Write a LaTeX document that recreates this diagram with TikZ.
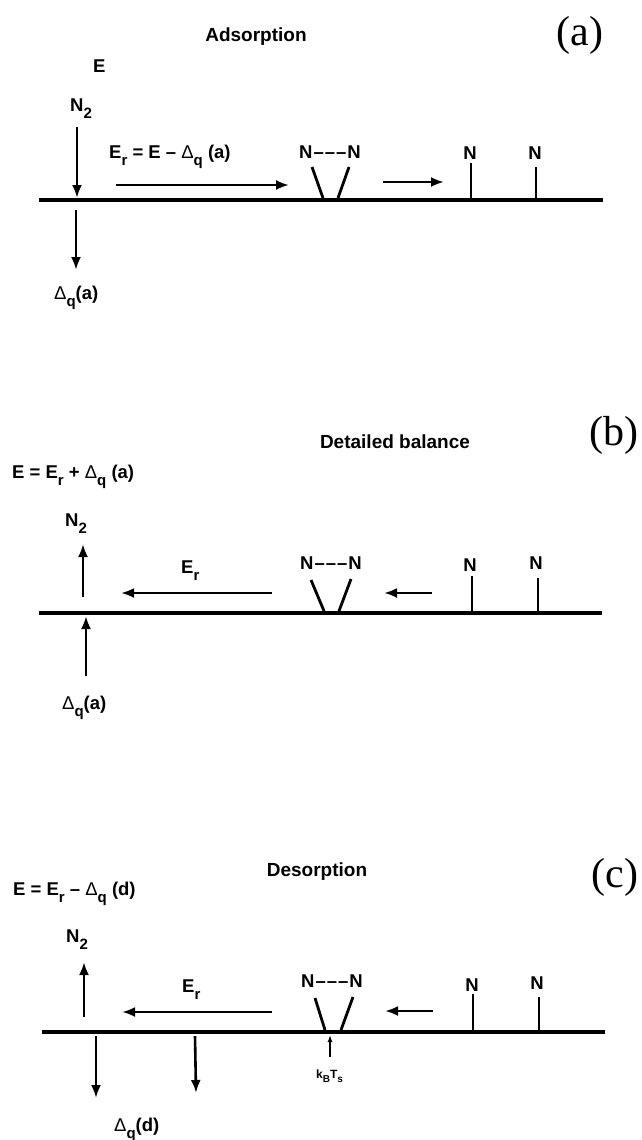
\documentclass[tikz,border=0pt]{standalone}
\usepackage{fontspec}
\setmainfont{Liberation Sans}
\newfontfamily\tagfont{Liberation Serif}
\usetikzlibrary{arrows.meta}
\newcommand{\lo}[1]{\raisebox{-7pt}{\fontsize{15}{15}\selectfont #1}}
\newcommand{\slo}[1]{\raisebox{-4pt}{\fontsize{10}{10}\selectfont #1}}
\newcommand{\Dl}{{\fontseries{m}\selectfont Δ}}
\newcommand{\NN}{N\kern1pt–\kern1pt–\kern1pt–\kern1pt N}
\tikzset{
  lbl/.style={font=\fontsize{18.5}{18.5}\selectfont\bfseries, inner sep=0pt, anchor=base west},
  ttl/.style={font=\fontsize{19}{19}\selectfont\bfseries, inner sep=0pt, anchor=base},
  tag/.style={font=\fontsize{42}{42}\selectfont\tagfont, inner sep=0pt, anchor=base},
  atom/.style={font=\fontsize{18.5}{18.5}\selectfont\bfseries, inner sep=0pt, anchor=base},
  small/.style={font=\fontsize{12}{12}\selectfont\bfseries, inner sep=0pt, anchor=base west},
  surf/.style={line width=4.8pt},
  arr/.style={line width=2.6pt, -{Latex[length=13pt,width=10pt]}},
  thinarr/.style={line width=1.3pt, -{Latex[length=7pt,width=5pt]}},
  leg/.style={line width=2.8pt}
}
\begin{document}
\begin{tikzpicture}[x=1pt,y=-1pt]
\useasboundingbox[fill=white] (0,0) rectangle (642,1140);

% ---------------- (a) Adsorption ----------------
\node[ttl] (a-title) at (256,41.5) {Adsorption};
\node[tag] (a-tag) at (580,45.5) {(a)};
\node[lbl] (a-E) at (93,73) {E};
\node[lbl] (a-N2) at (70,111) {N\lo{2}};
\node[lbl] (a-Er) at (109,158) {E\lo{r} = E – \Dl\lo{q} (a)};
\node[lbl] (a-Dq) at (54,299) {\Dl\lo{q}(a)};
\node[atom] (a-NN) at (330,158) {\NN};
\node[atom] (a-N1) at (470,159) {N};
\node[atom] (a-N2b) at (535,159) {N};
\coordinate (a-sl) at (39,200);
\coordinate (a-sr) at (603,200);
\draw[surf] (a-sl) -- (a-sr);
\coordinate (a-in1) at (77,127);
\coordinate (a-in2) at (77,198);
\draw[arr] (a-in1) -- (a-in2);
\coordinate (a-q1) at (76,210);
\coordinate (a-q2) at (76,270);
\draw[arr] (a-q1) -- (a-q2);
\coordinate (a-r1) at (116,185);
\coordinate (a-r2) at (289,185);
\draw[arr] (a-r1) -- (a-r2);
\coordinate (a-l1t) at (312,167); \coordinate (a-l1b) at (323,198);
\coordinate (a-l2t) at (349,167); \coordinate (a-l2b) at (338,198);
\draw[leg] (a-l1t) -- (a-l1b);
\draw[leg] (a-l2t) -- (a-l2b);
\coordinate (a-m1) at (383,182);
\coordinate (a-m2) at (444,182);
\draw[arr] (a-m1) -- (a-m2);
\coordinate (a-s1t) at (471,163); \coordinate (a-s1b) at (471,198);
\coordinate (a-s2t) at (536,167); \coordinate (a-s2b) at (536,198);
\draw[leg] (a-s1t) -- (a-s1b);
\draw[leg] (a-s2t) -- (a-s2b);

% ---------------- (b) Detailed balance ----------------
\node[ttl] (b-title) at (395,448) {Detailed balance};
\node[tag] (b-tag) at (614,445) {(b)};
\node[lbl] (b-E) at (12,478) {E = E\lo{r} + \Dl\lo{q} (a)};
\node[lbl] (b-N2) at (65,526) {N\lo{2}};
\node[lbl] (b-Er) at (181,573) {E\lo{r}};
\node[lbl] (b-Dq) at (62,709) {\Dl\lo{q}(a)};
\node[atom] (b-NN) at (331,569) {\NN};
\node[atom] (b-N1) at (470,571) {N};
\node[atom] (b-N2b) at (536,569) {N};
\coordinate (b-sl) at (39,613);
\coordinate (b-sr) at (602,613);
\draw[surf] (b-sl) -- (b-sr);
\coordinate (b-o1) at (83,597);
\coordinate (b-o2) at (83,544);
\draw[arr] (b-o1) -- (b-o2);
\coordinate (b-q1) at (86,676);
\coordinate (b-q2) at (86,616);
\draw[arr] (b-q1) -- (b-q2);
\coordinate (b-r1) at (272,593);
\coordinate (b-r2) at (121,593);
\draw[arr] (b-r1) -- (b-r2);
\coordinate (b-l1t) at (311,580); \coordinate (b-l1b) at (324,611);
\coordinate (b-l2t) at (351,579); \coordinate (b-l2b) at (339,611);
\draw[leg] (b-l1t) -- (b-l1b);
\draw[leg] (b-l2t) -- (b-l2b);
\coordinate (b-m1) at (432,593);
\coordinate (b-m2) at (384,593);
\draw[arr] (b-m1) -- (b-m2);
\coordinate (b-s1t) at (472,576); \coordinate (b-s1b) at (472,611);
\coordinate (b-s2t) at (538,578); \coordinate (b-s2b) at (538,611);
\draw[leg] (b-s1t) -- (b-s1b);
\draw[leg] (b-s2t) -- (b-s2b);

% ---------------- (c) Desorption ----------------
\node[ttl] (c-title) at (317,876) {Desorption};
\node[tag] (c-tag) at (615,887) {(c)};
\node[lbl] (c-E) at (13,895) {E = E\lo{r} – \Dl\lo{q} (d)};
\node[lbl] (c-N2) at (66,942) {N\lo{2}};
\node[lbl] (c-Er) at (182,992) {E\lo{r}};
\node[lbl] (c-Dq) at (114,1131) {\Dl\lo{q}(d)};
\node[atom] (c-NN) at (332,987) {\NN};
\node[atom] (c-N1) at (472,991) {N};
\node[atom] (c-N2b) at (537,989) {N};
\node[small] (c-kT) at (316,1078) {k\slo{B}T\slo{s}};
\coordinate (c-sl) at (42,1032);
\coordinate (c-sr) at (605,1032);
\draw[surf] (c-sl) -- (c-sr);
\coordinate (c-o1) at (84,1017);
\coordinate (c-o2) at (84,962);
\draw[arr] (c-o1) -- (c-o2);
\coordinate (c-q1) at (96,1036);
\coordinate (c-q2) at (96,1098);
\draw[arr] (c-q1) -- (c-q2);
\coordinate (c-p1) at (195,1036);
\coordinate (c-p2) at (196,1093);
\draw[arr] (c-p1) -- (c-p2);
\coordinate (c-r1) at (272,1012);
\coordinate (c-r2) at (122,1012);
\draw[arr] (c-r1) -- (c-r2);
\coordinate (c-l1t) at (315,998); \coordinate (c-l1b) at (325,1030);
\coordinate (c-l2t) at (353,997); \coordinate (c-l2b) at (341,1030);
\draw[leg] (c-l1t) -- (c-l1b);
\draw[leg] (c-l2t) -- (c-l2b);
\coordinate (c-m1) at (433,1011);
\coordinate (c-m2) at (385,1011);
\draw[arr] (c-m1) -- (c-m2);
\coordinate (c-s1t) at (473,994); \coordinate (c-s1b) at (473,1030);
\coordinate (c-s2t) at (539,997); \coordinate (c-s2b) at (539,1030);
\draw[leg] (c-s1t) -- (c-s1b);
\draw[leg] (c-s2t) -- (c-s2b);
\coordinate (c-k1) at (330,1057);
\coordinate (c-k2) at (330,1035);
\draw[thinarr] (c-k1) -- (c-k2);
\end{tikzpicture}
\end{document}
